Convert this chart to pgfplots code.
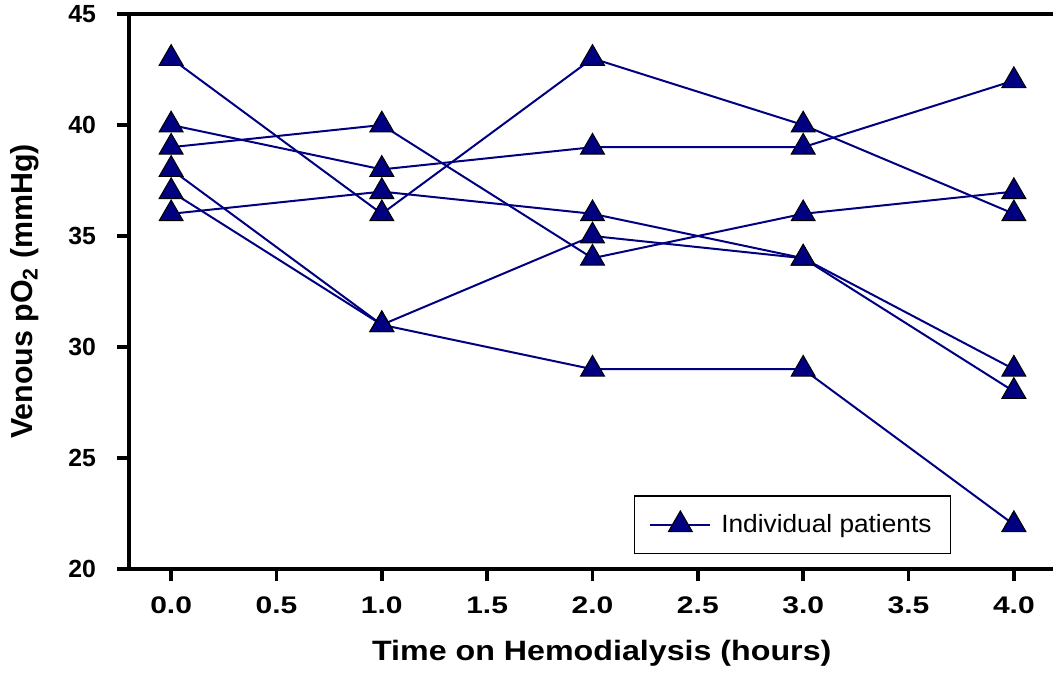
\documentclass[border=0pt]{standalone}
\usepackage{pgfplots}
\pgfplotsset{compat=1.18}
\usepackage{fontspec}
\setmainfont{Liberation Sans}
\newfontfamily\xtfont{Liberation Sans}[FakeStretch=1.25]
\newfontfamily\xlfont{Liberation Sans}[FakeStretch=1.15]
\newfontfamily\lgfont{Liberation Sans}[FakeStretch=1.05]
\definecolor{navy}{RGB}{0,0,128}
\begin{document}
\begin{tikzpicture}
\begin{axis}[
    scale only axis,
    width=463.5pt, height=277.5pt,
    xmin=-0.2, xmax=4.2, ymin=20, ymax=45,
    xtick={0,0.5,...,4}, ytick={20,25,...,45},
    xtick pos=bottom, ytick pos=left,
    tick align=outside,
    major tick length=6pt,
    every tick/.style={black, line width=1.8pt},
    axis line style={draw=none},
    /pgf/number format/assume math mode=true,
    xticklabel style={font=\xtfont\bfseries\fontsize{12}{14}\selectfont, yshift=-4.5pt,
        /pgf/number format/fixed, /pgf/number format/fixed zerofill, /pgf/number format/precision=1},
    yticklabel style={font=\bfseries\fontsize{12.4}{14}\selectfont, xshift=-7pt},
    xlabel={Time on Hemodialysis (hours)},
    ylabel={Venous pO\textsubscript{2} (mmHg)},
    xlabel style={font=\xlfont\bfseries\fontsize{14}{16}\selectfont,
        at={(axis description cs:0.51,0)}, anchor=center, yshift=-42pt},
    ylabel style={font=\bfseries\fontsize{15.2}{16}\selectfont,
        at={(axis description cs:-0.1122,0.5)}, anchor=center},
    clip=false,
    legend style={at={(0.887,0.027)}, anchor=south east, draw=black, line width=0.75pt,
        font=\lgfont\fontsize{12.5}{14}\selectfont, inner xsep=7.5pt, inner ysep=7pt},
    legend image code/.code={\draw[mark repeat=2, mark phase=2] plot coordinates {(0pt,0pt) (15pt,0pt) (30pt,0pt)};},
    pat/.style={navy, line width=1pt, mark=triangle*, mark size=6.9pt,
        mark options={fill=navy, draw=black, line width=0.5pt}},
]
\addplot[pat] coordinates {(0,43) (1,36) (2,43) (3,40) (4,36)};
\addlegendentry{\hspace{3pt}Individual patients}
\addplot[pat, forget plot] coordinates {(0,40) (1,38) (2,39) (3,39) (4,42)};
\addplot[pat, forget plot] coordinates {(0,39) (1,40) (2,34) (3,36) (4,37)};
\addplot[pat, forget plot] coordinates {(0,36) (1,37) (2,36) (3,34) (4,29)};
\addplot[pat, forget plot] coordinates {(0,38) (1,31) (2,35) (3,34) (4,28)};
\addplot[pat, forget plot] coordinates {(0,37) (1,31) (2,29) (3,29) (4,22)};
\draw[black, line width=2pt] (rel axis cs:1,1) -- (rel axis cs:0,1) -- (rel axis cs:0,0) -- (rel axis cs:1,0);
\coordinate (bl) at (rel axis cs:0,0);
\coordinate (tr) at (rel axis cs:1,1);
\end{axis}
\pgfresetboundingbox
\useasboundingbox ([shift={(-64.5pt,-53pt)}]bl) rectangle ([shift={(-1.5pt,7pt)}]tr);
\end{tikzpicture}
\end{document}
